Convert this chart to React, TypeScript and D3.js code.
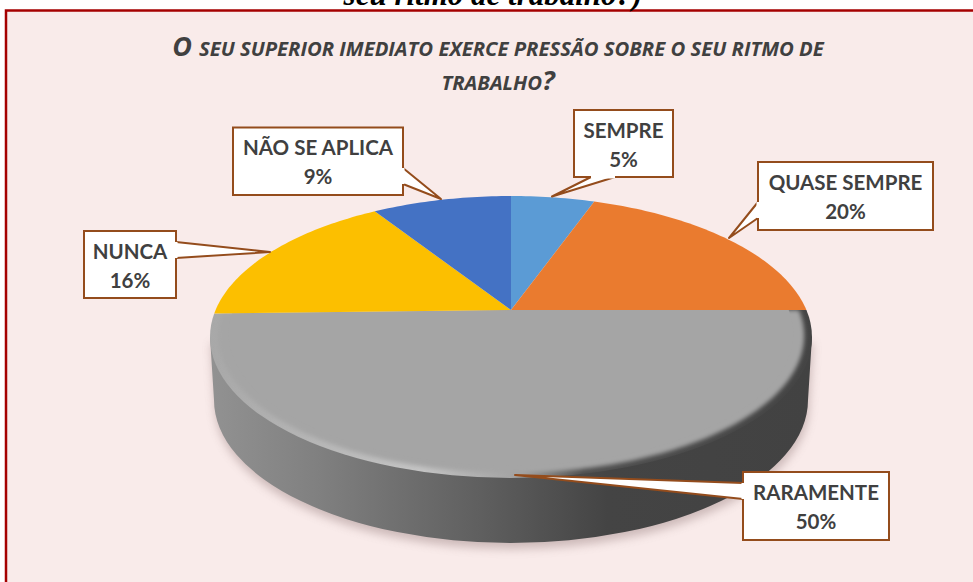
import React from "react";
import * as d3 from "d3";

const categories = ["SEMPRE", "QUASE SEMPRE", "RARAMENTE", "NUNCA", "NÃO SE APLICA"];
const values = [5.4, 19.6, 49.6, 16.4, 9];
const colors = ["#5b9bd5", "#ea7b2f", "#a5a5a5", "#fcbf00", "#4472c4"];
const titleLine1 = "SEU SUPERIOR IMEDIATO EXERCE PRESSÃO SOBRE O SEU RITMO DE";
const titleLine2 = "TRABALHO";
const labelFont = "Lato, 'Open Sans', sans-serif";
const titleFont = "'Open Sans', Lato, sans-serif";

const cx = 511, cy = 310, A = 295.4, B = 135.8, K = 0.1915;
const project = (a: number, s = 1): [number, number] => {
  const u = Math.sin(a) * s, v = -Math.cos(a) * s, w = 1 - K * v;
  return [cx + (A * u) / w, cy + (B * v) / w];
};
const pie = d3.pie<number>().sort(null).startAngle(0).endAngle(2 * Math.PI);
const arcs = pie(values);
const line = d3.line();
const slicePath = (start: number, end: number, s = 1) => {
  const n = Math.max(2, Math.ceil((end - start) / 0.02));
  const pts = d3.range(n + 1).map((i) => project(start + ((end - start) * i) / n, s));
  return line([[cx, cy], ...pts]) + "Z";
};

const boxes = [
  { i: 0, x: 574, y: 110, w: 99, h: 67, poly: [[591, 177], [552, 196.5], [615, 177]] },
  { i: 1, x: 758, y: 162, w: 175, h: 68, poly: [[758, 202], [729, 238], [758, 218]] },
  { i: 2, x: 743, y: 472, w: 146, h: 68, poly: [[743, 483], [515, 475], [743, 499]] },
  { i: 3, x: 84, y: 231, w: 92, h: 67, poly: [[176, 242], [270, 252], [176, 258]] },
  { i: 4, x: 233, y: 127.5, w: 170, h: 67.5, poly: [[403, 168], [441, 199], [403, 184]] },
];

export default function App() {
  const ecy = 337, erx = 301, ery = 141;
  const by = 400, brx = 297, bry = 143;
  const body = `M${cx - erx},${ecy}L${cx - brx},${by}A${brx},${bry} 0 0 0 ${cx + brx},${by}L${cx + erx},${ecy}Z`;
  const gray = arcs[2];
  return (
    <svg width={973} height={582} style={{ position: "absolute", left: 0, top: 0, background: "#fff" }}>
      <defs>
        <linearGradient id="side" gradientUnits="userSpaceOnUse" x1={209} x2={813} y1={0} y2={0}>
          <stop offset="0" stopColor="#929292" />
          <stop offset="0.18" stopColor="#808080" />
          <stop offset="0.45" stopColor="#5f5f5f" />
          <stop offset="0.66" stopColor="#444444" />
          <stop offset="1" stopColor="#424242" />
        </linearGradient>
        <linearGradient id="rim" gradientUnits="userSpaceOnUse" x1={209} x2={813} y1={0} y2={0}>
          <stop offset="0" stopColor="#a8a8a8" />
          <stop offset="0.35" stopColor="#c4c4c4" />
          <stop offset="0.52" stopColor="#a0a0a0" />
          <stop offset="0.62" stopColor="#505050" />
          <stop offset="1" stopColor="#444444" />
        </linearGradient>
        <filter id="blur1" x="-5%" y="-5%" width="110%" height="110%"><feGaussianBlur stdDeviation="2" /></filter>
        <filter id="blur2" x="-10%" y="-10%" width="120%" height="120%"><feGaussianBlur stdDeviation="5" /></filter>
        <clipPath id="lower"><path d={slicePath(gray.startAngle, gray.endAngle, 1.06)} /></clipPath>
      </defs>
      <rect x={6} y={10.5} width={980} height={590} fill="#f9ebea" stroke="#a50000" strokeWidth={2.5} />
      <text x={493} y={5} textAnchor="middle" fontFamily="'Liberation Serif', serif" fontStyle="italic" fontWeight={700} fontSize={31}>seu ritmo de trabalho?)</text>

      <text x={498} y={56} textAnchor="middle" fontFamily={titleFont} fontStyle="italic" fontWeight={700} fill="#404040" fontSize={20.3}>
        <tspan fontSize={27}>O </tspan>{titleLine1}
      </text>
      <text x={498} y={90} textAnchor="middle" fontFamily={titleFont} fontStyle="italic" fontWeight={700} fill="#404040" fontSize={20.3}>
        {titleLine2}<tspan fontSize={27}>?</tspan>
      </text>

      <path d={body} transform="translate(1,6)" fill="#8a7070" opacity={0.4} filter="url(#blur2)" />
      <path d={body} fill="url(#side)" />
      <g clipPath="url(#lower)">
        <ellipse cx={cx} cy={ecy} rx={erx} ry={ery} fill="url(#rim)" />
        <path d={slicePath(gray.startAngle, gray.endAngle, 0.975)} fill={colors[2]} filter="url(#blur1)" />
        <path d={slicePath(gray.startAngle, gray.endAngle, 0.94)} fill={colors[2]} />
      </g>
      {arcs.map((a, i) =>
        i === 2 ? null : <path key={i} d={slicePath(a.startAngle, a.endAngle)} fill={colors[i]} />
      )}

      {boxes.map((b) => (
        <g key={b.i}>
          <rect x={b.x} y={b.y} width={b.w} height={b.h} fill="#fff" stroke="#944c1c" strokeWidth={2} />
          <path d={line(b.poly as [number, number][]) as string} fill="#fff" stroke="#944c1c" strokeWidth={2} strokeLinejoin="round" />
          <line x1={b.poly[0][0]} y1={b.poly[0][1]} x2={b.poly[2][0]} y2={b.poly[2][1]} stroke="#fff" strokeWidth={3} />
          <text x={b.x + b.w / 2} y={b.y + 27.5} textAnchor="middle" fontFamily={labelFont} fontWeight={700} fontSize={20.5} fill="#404040">{categories[b.i]}</text>
          <text x={b.x + b.w / 2} y={b.y + 56.5} textAnchor="middle" fontFamily={labelFont} fontWeight={700} fontSize={20.5} fill="#404040">{Math.round(values[b.i])}%</text>
        </g>
      ))}
    </svg>
  );
}
